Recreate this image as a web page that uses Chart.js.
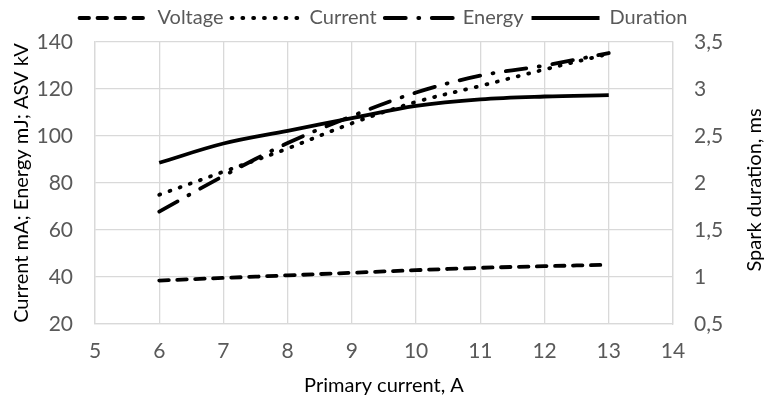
<!DOCTYPE html>
<html>
<head>
<meta charset="utf-8">
<script src="https://cdn.jsdelivr.net/npm/chart.js@4/dist/chart.umd.min.js"></script>
<style>
  html, body { margin: 0; padding: 0; background: #ffffff; }
  #wrap { width: 767px; height: 400px; position: relative; }
</style>
</head>
<body>
<div id="wrap"><canvas id="c" width="767" height="400"></canvas></div>
<script>
// ---- data ----
const primaryCurrent = [6, 7, 8, 9, 10, 11, 12, 13];
const voltage  = [38.5, 39.6, 40.7, 41.8, 42.9, 43.9, 44.6, 45.2];
const current  = [75.0, 84.8, 94.7, 105.4, 114.5, 121.3, 128.3, 135.0];
const energy   = [67.8, 83.0, 97.0, 108.5, 118.5, 125.7, 130.0, 135.3];
const duration = [2.215, 2.42, 2.555, 2.69, 2.82, 2.89, 2.92, 2.935];
const seriesNames = ['Voltage', 'Current', 'Energy', 'Duration'];
const xTitle = 'Primary current, A';
const yLeftTitle = 'Current mA; Energy mJ; ASV kV';
const yRightTitle = 'Spark duration, ms';

const FONT = 'Lato';
const pts = (arr) => primaryCurrent.map((x, i) => ({ x: x, y: arr[i] }));

const rightTitlePlugin = {
  id: 'rightTitle',
  afterDraw(chart) {
    const ctx = chart.ctx;
    ctx.save();
    ctx.translate(755, 190);
    ctx.rotate(-Math.PI / 2);
    ctx.fillStyle = '#000000';
    ctx.font = '20px ' + FONT;
    ctx.textAlign = 'center';
    ctx.textBaseline = 'middle';
    ctx.fillText(yRightTitle, 0, 0);
    ctx.restore();
  }
};

const legendHeightPlugin = {
  id: 'legendHeight',
  afterInit(chart) {
    const lg = chart.legend;
    const orig = lg.fit.bind(lg);
    lg.fit = function () { orig(); this.height = 42; };
  }
};

const LW = 3.8;
const common = { pointRadius: 0, pointHoverRadius: 0, borderColor: '#000000', backgroundColor: '#000000',
  borderWidth: LW, tension: 0.35, fill: false, borderCapStyle: 'round', borderJoinStyle: 'round' };

new Chart(document.getElementById('c'), {
  type: 'line',
  data: {
    datasets: [
      Object.assign({}, common, { label: seriesNames[0], data: pts(voltage),  yAxisID: 'y',  borderDash: [9.5, 8.5] }),
      Object.assign({}, common, { label: seriesNames[1], data: pts(current),  yAxisID: 'y',  borderDash: [1, 9.8] }),
      Object.assign({}, common, { label: seriesNames[2], data: pts(energy),   yAxisID: 'y',  borderDash: [21, 12.5, 1, 12.5] }),
      Object.assign({}, common, { label: seriesNames[3], data: pts(duration), yAxisID: 'y1', borderDash: [], borderCapStyle: 'butt' })
    ]
  },
  options: {
    responsive: false,
    animation: false,
    layout: { padding: 0 },
    plugins: {
      tooltip: { enabled: false },
      legend: {
        position: 'top',
        align: 'center',
        labels: {
          usePointStyle: true,
          pointStyleWidth: 68,
          padding: 8,
          color: '#595959',
          font: { family: FONT, size: 20 },
          generateLabels(chart) {
            return chart.data.datasets.map((ds, i) => ({
              text: ds.label,
              fillStyle: '#000000',
              strokeStyle: '#000000',
              fontColor: '#595959',
              lineWidth: LW,
              lineDash: ds.borderDash || [],
              lineCap: ds.borderCapStyle || 'butt',
              lineJoin: 'round',
              pointStyle: 'line',
              hidden: false,
              datasetIndex: i
            }));
          }
        }
      }
    },
    scales: {
      x: {
        type: 'linear',
        min: 5, max: 14,
        ticks: { stepSize: 1, color: '#595959', font: { family: FONT, size: 21 }, padding: 15 },
        grid: { color: '#d9d9d9', lineWidth: 1.3, drawTicks: false },
        border: { color: '#d9d9d9', width: 1.3 },
        title: { display: true, text: xTitle, color: '#000000', font: { family: FONT, size: 20 }, padding: { top: 0, bottom: 2 } },
        afterFit(s) { s.height = 76; }
      },
      y: {
        type: 'linear', position: 'left',
        min: 20, max: 140,
        ticks: { stepSize: 20, color: '#595959', font: { family: FONT, size: 21 }, padding: 22 },
        grid: { color: '#d9d9d9', lineWidth: 1.3, drawTicks: false },
        border: { color: '#d9d9d9', width: 1.3 },
        title: { display: true, text: yLeftTitle, color: '#000000', font: { family: FONT, size: 20 }, padding: { top: 10, bottom: 0 } },
        afterFit(s) { s.width = 95; }
      },
      y1: {
        type: 'linear', position: 'right',
        min: 0.5, max: 3.5,
        ticks: { stepSize: 0.5, color: '#595959', font: { family: FONT, size: 21 }, padding: 21,
          callback: (v) => String(v).replace('.', ',') },
        grid: { display: false, drawTicks: false },
        border: { color: '#d9d9d9', width: 1.3 },
        title: { display: false },
        afterFit(s) { s.width = 94; }
      }
    }
  },
  plugins: [legendHeightPlugin, rightTitlePlugin]
});
</script>
</body>
</html>
